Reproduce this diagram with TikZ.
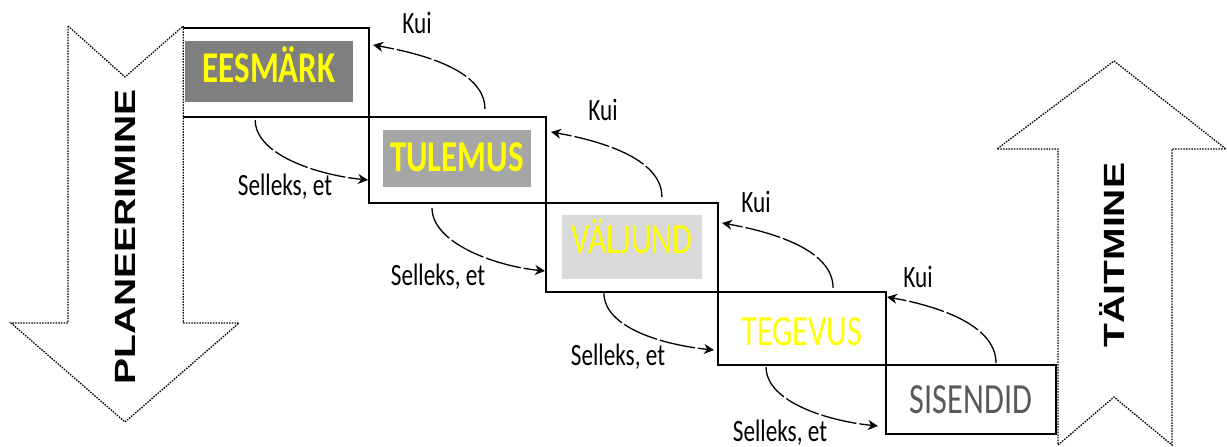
\documentclass[tikz,border=0pt]{standalone}
\usepackage{fontspec}
\usepackage{graphicx}
\setmainfont{Carlito}
\newfontfamily\arrowfont{Liberation Sans}
\usetikzlibrary{arrows.meta}
\usetikzlibrary{calc}
\definecolor{stepyellow}{HTML}{FFFF00}
\definecolor{eesgray}{HTML}{7F7F7F}
\definecolor{tulgray}{HTML}{A6A6A6}
\definecolor{valgray}{HTML}{D9D9D9}
\definecolor{sisgray}{HTML}{595959}
% the source picture is narrowed, so the texts are narrowed too
\newcommand{\squeeze}[1]{\scalebox{0.75}[1]{#1}}
\newcommand{\squeezeup}[1]{\scalebox{1}[0.75]{#1}}
\tikzstyle{stair}=[draw, line width=1.3pt, inner sep=0, outer sep=0, anchor=north west]
\tikzstyle{stepname}=[inner sep=0, outer sep=0, text=stepyellow, font=\fontsize{43}{43}\selectfont]
\tikzstyle{boldname}=[stepname, font=\fontsize{44}{44}\selectfont\bfseries]
\tikzstyle{linkword}=[inner sep=0, anchor=base, font=\fontsize{31}{31}\selectfont]
\tikzstyle{link}=[line width=1.3pt, dash pattern=on 36pt off 3pt, -{Stealth[length=10pt, width=10pt]}]
\tikzstyle{bigarrow}=[fill=white, line width=1.3pt, dash pattern=on 1.5pt off 1.2pt]
\tikzstyle{bigword}=[rotate=90, anchor=base, inner sep=0, font=\arrowfont\bfseries\fontsize{39}{39}\selectfont]
\tikzstyle{stairs}=[x=1pt, y=-1pt,
                    % Keep the margins of the source picture.
                    execute at begin picture={\useasboundingbox (0,0) rectangle (1227,447);}]

\begin{document}
\begin{tikzpicture}[stairs]
        \node[stair, minimum width=186.5pt, minimum height=89pt] (B1) at (182.5,28) {};
        \node[stair, minimum width=177pt,   minimum height=86pt] (B2) at (369,117) {};
        \node[stair, minimum width=172pt,   minimum height=89pt] (B3) at (546,203) {};
        \node[stair, minimum width=168pt,   minimum height=73pt] (B4) at (718,292) {};
        \node[stair, minimum width=170pt,   minimum height=69pt] (B5) at (886,365) {};
        \node[boldname, fill=eesgray, minimum width=168pt, text height=41pt, text depth=20pt, anchor=north] (N1) at (269,41) {\squeeze{EESMÄRK}};
        \node[boldname, fill=tulgray, minimum width=148pt, text height=41pt, text depth=16pt, anchor=north] (N2) at (457,130) {\squeeze{TULEMUS}};
        \node[stepname, fill=valgray, minimum width=140pt, text height=38pt, text depth=26pt, anchor=north] (N3) at (632,215) {\squeeze{VÄLJUND}};
        \node[stepname, anchor=base]                  (N4) at (802,345) {\squeeze{TEGEVUS}};
        \node[stepname, anchor=base, text=sisgray]    (N5) at (971,413) {\squeeze{SISENDID}};
        \draw[bigarrow] (68,26) -- (125,77) -- (183.2,26) -- (183.2,323) -- (239,323) -- (125,422) -- (11,323) -- (68,323) -- cycle;
        \draw[bigarrow] (1114,61) -- (1226,149) -- (1172,149) -- (1172,445) -- (1114,397) -- (1058,445) -- (1058,149) -- (997,149) -- cycle;
        \node[bigword] (plan) at (135,237) {\squeezeup{PLANEERIMINE}};
        \node[bigword] (done) at (1124,255) {\squeezeup{TÄITMINE}};
        \draw[link] ($(B2.north west)!0.655!(B2.north east)+(0,-8)$) .. controls +(0,-40) and +(45,8) .. ($(B1.north east)+(4,17)$);
        \draw[link] ($(B3.north west)!0.674!(B3.north east)+(0,-6)$) .. controls +(0,-40) and +(45,8) .. ($(B2.north east)+(5,15)$);
        \draw[link] ($(B4.north west)!0.685!(B4.north east)+(0,-4)$) .. controls +(0,-40) and +(45,8) .. ($(B3.north east)+(4,20)$);
        \draw[link] ($(B5.north west)!0.647!(B5.north east)+(0,-2)$) .. controls +(0,-40) and +(45,8) .. ($(B4.north east)+(1,5)$);
        \draw[link] ($(B1.south west)!0.39!(B1.south east)+(0,3)$) .. controls +(0,35) and +(-50,-5) .. ($(B2.north west)+(-1,63)$);
        \draw[link] ($(B2.south west)!0.356!(B2.south east)+(0,5)$) .. controls +(0,35) and +(-50,-5) .. ($(B3.north west)+(-1,68)$);
        \draw[link] ($(B3.south west)!0.337!(B3.south east)+(0,1)$) .. controls +(0,35) and +(-50,-5) .. ($(B4.north west)+(-4,58)$);
        \draw[link] ($(B4.south west)!0.286!(B4.south east)+(0,2)$) .. controls +(0,35) and +(-50,-5) .. ($(B5.north west)+(-8,61)$);
        \node[linkword] (K1) at (417,33)  {\squeeze{Kui}};
        \node[linkword] (K2) at (603,120) {\squeeze{Kui}};
        \node[linkword] (K3) at (756,212) {\squeeze{Kui}};
        \node[linkword] (K4) at (918,287) {\squeeze{Kui}};
        \node[linkword] (L1) at (285,195) {\squeeze{Selleks, et}};
        \node[linkword] (L2) at (438,285) {\squeeze{Selleks, et}};
        \node[linkword] (L3) at (618,365) {\squeeze{Selleks, et}};
        \node[linkword] (L4) at (780,441) {\squeeze{Selleks, et}};
    \end{tikzpicture}
\end{document}
